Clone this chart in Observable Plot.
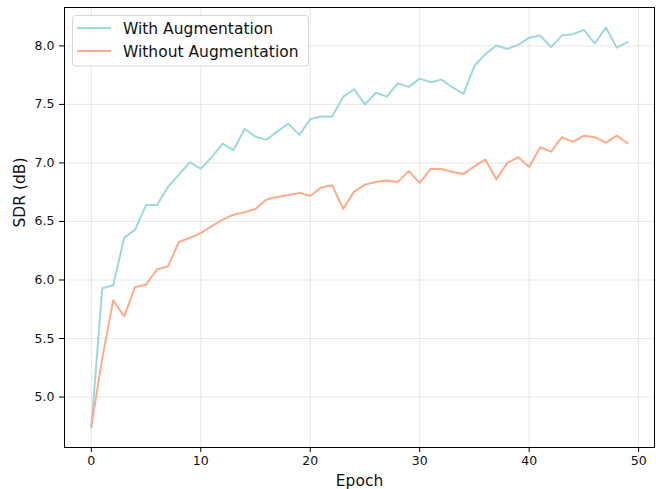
<!DOCTYPE html>
<html>
<head>
<meta charset="utf-8">
<script src="https://cdn.jsdelivr.net/npm/d3@7"></script>
<script src="https://cdn.jsdelivr.net/npm/@observablehq/plot@0.6"></script>
<style>
  html, body { margin: 0; padding: 0; background: #fff; }
  svg { display: block; }
</style>
</head>
<body>
<div id="chart"></div>
<script>
const seriesNames = ["With Augmentation", "Without Augmentation"];
const seriesColors = ["#9fd8dc", "#ffab88"];
const epochs = d3.range(0, 50);
const withAug = [
  4.74, 5.93, 5.955, 6.36, 6.43, 6.64, 6.64, 6.795, 6.90, 7.006,
  6.95, 7.05, 7.165, 7.11, 7.29, 7.225, 7.198, 7.27, 7.336, 7.24,
  7.373, 7.396, 7.396, 7.564, 7.63, 7.50, 7.60, 7.567, 7.68, 7.65,
  7.72, 7.69, 7.712, 7.645, 7.59, 7.83, 7.93, 8.003, 7.974, 8.009,
  8.07, 8.088, 7.99, 8.09, 8.10, 8.137, 8.02, 8.157, 7.986, 8.034
];
const withoutAug = [
  4.75, 5.33, 5.826, 5.69, 5.94, 5.96, 6.09, 6.117, 6.325, 6.36,
  6.40, 6.46, 6.515, 6.558, 6.58, 6.607, 6.688, 6.71, 6.726, 6.744,
  6.718, 6.79, 6.81, 6.607, 6.755, 6.815, 6.838, 6.85, 6.838, 6.93,
  6.83, 6.95, 6.948, 6.922, 6.906, 6.97, 7.03, 6.86, 7.00, 7.05,
  6.966, 7.134, 7.097, 7.22, 7.18, 7.233, 7.22, 7.174, 7.233, 7.168
];
const xTicks = [0, 10, 20, 30, 40, 50];
const yTicks = [5.0, 5.5, 6.0, 6.5, 7.0, 7.5, 8.0];
const xLabel = "Epoch";
const yLabel = "SDR (dB)";

const data = [];
[withAug, withoutAug].forEach((vals, s) => {
  vals.forEach((v, i) => data.push({ epoch: epochs[i], sdr: v, series: seriesNames[s] }));
});

const font = "DejaVu Sans, sans-serif";
const plot = Plot.plot({
  width: 656,
  height: 489,
  marginLeft: 64,
  marginRight: 2,
  marginTop: 7,
  marginBottom: 42,
  style: { fontFamily: font, background: "#fff" },
  x: { domain: [-2.45, 51.45] },
  y: { domain: [4.569, 8.328] },
  color: { domain: seriesNames, range: seriesColors },
  marks: [
    Plot.gridX(xTicks, { stroke: "#b0b0b0", strokeOpacity: 0.3, strokeWidth: 1 }),
    Plot.gridY(yTicks, { stroke: "#b0b0b0", strokeOpacity: 0.3, strokeWidth: 1 }),
    Plot.line(data, { x: "epoch", y: "sdr", stroke: "series", z: "series", strokeWidth: 2 }),
    Plot.frame({ stroke: "#000", strokeWidth: 1 }),
    Plot.axisX(xTicks, { tickSize: 5, tickPadding: 4, fontSize: 12.5, label: null, stroke: "#000", color: "#111" }),
    Plot.axisY(yTicks, { tickSize: 5, tickPadding: 5, fontSize: 12.5, label: null, tickFormat: d3.format(".1f"), stroke: "#000", color: "#111" }),
    Plot.text([xLabel], { frameAnchor: "bottom", dy: 34, lineAnchor: "middle", fontSize: 15.5, fill: "#111", text: d => d }),
    Plot.text([yLabel], { frameAnchor: "left", dx: -44, rotate: -90, lineAnchor: "middle", fontSize: 15.5, fill: "#111", text: d => d })
  ]
});

// legend
const svg = d3.select(plot);
const lg = svg.append("g").attr("font-family", font).attr("text-anchor", "start");
lg.append("rect")
  .attr("x", 72.5).attr("y", 15.5).attr("width", 236).attr("height", 50.5)
  .attr("rx", 3).attr("fill", "#fff").attr("fill-opacity", 0.85)
  .attr("stroke", "#d6d6d6").attr("stroke-width", 1);
seriesNames.forEach((name, i) => {
  const cy = 28 + i * 23;
  lg.append("line").attr("x1", 77).attr("x2", 111).attr("y1", cy).attr("y2", cy)
    .attr("stroke", seriesColors[i]).attr("stroke-width", 2);
  lg.append("text").attr("x", 123).attr("y", cy + 6.3)
    .attr("text-anchor", "start")
    .attr("font-size", 15.5).attr("fill", "#111").text(name);
});

document.getElementById("chart").appendChild(plot);
</script>
</body>
</html>
